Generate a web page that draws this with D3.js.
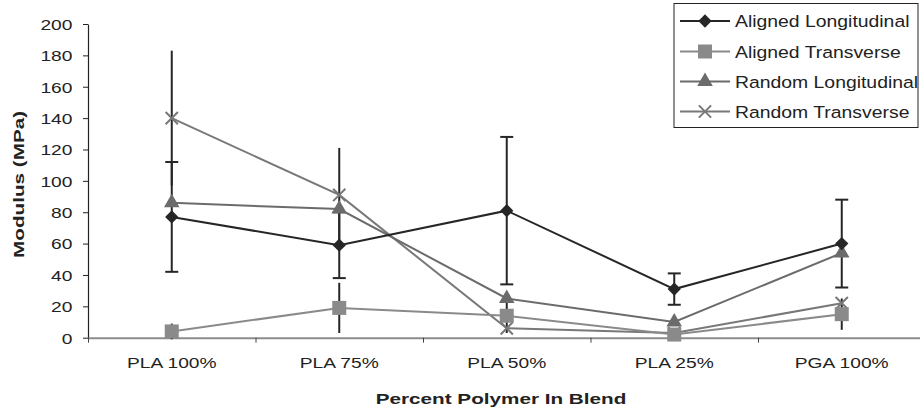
<!DOCTYPE html>
<html>
<head>
<meta charset="utf-8">
<script src="https://cdn.jsdelivr.net/npm/d3@7"></script>
<style>
  body { margin: 0; background: #fff; }
  text { font-family: "Liberation Sans", Arial, sans-serif; fill: #222; }
</style>
</head>
<body>
<script>
// modulus chart, 4 series with error bars

var categories = ["PLA 100%", "PLA 75%", "PLA 50%", "PLA 25%", "PGA 100%"];
var yTicks = [0, 20, 40, 60, 80, 100, 120, 140, 160, 180, 200];

var seriesNames = ["Aligned Longitudinal", "Aligned Transverse", "Random Longitudinal", "Random Transverse"];

var alignedLong = [77, 59, 81, 31, 60];
var alignedLongErr = [35, 21, 47, 10, 28];
var alignedTrans = [4, 19, 14, 2, 15];
var alignedTransErr = [5, 16, 11, 0, 10];
var randomLong = [86, 82, 25, 10, 54];
var randomLongErr = [0, 0, 0, 0, 0];
var randomTrans = [140, 91, 6, 3, 22];
var randomTransErr = [43, 30, 0, 0, 0];

var W = 920, H = 417;
var x0 = 88, x1 = 925.5;
var yBottom = 337.7, yTop = 24;
var txtScale = 1.28;

var series = [
  { name: seriesNames[0], vals: alignedLong, err: alignedLongErr, color: "#262626", sym: "diamond", cap: true },
  { name: seriesNames[1], vals: alignedTrans, err: alignedTransErr, color: "#8a8a8a", sym: "square", cap: false },
  { name: seriesNames[2], vals: randomLong, err: randomLongErr, color: "#6b6b6b", sym: "triangle", cap: false },
  { name: seriesNames[3], vals: randomTrans, err: randomTransErr, color: "#787878", sym: "x", cap: false }
];

var svg = d3.select("body").append("svg")
  .attr("width", W)
  .attr("height", H);

var x = d3.scaleBand().domain(categories).range([x0, x1]).padding(0);
var xEdge = d3.scaleLinear().domain([0, categories.length]).range([x0, x1]);
var y = d3.scaleLinear().domain([0, 200]).range([yBottom, yTop]);

function cx(i) { return x(categories[i]) + x.bandwidth() / 2; }

// y axis
var gy = svg.append("g")
  .attr("transform", "translate(" + x0 + ",0)")
  .call(d3.axisLeft(y).tickValues(yTicks).tickSize(5).tickSizeOuter(0));
gy.select(".domain").attr("stroke", "#222").attr("stroke-width", 1.2);
gy.selectAll(".tick line").attr("stroke", "#222");
gy.selectAll(".tick text")
  .attr("font-size", 15)
  .attr("x", -15.6 / txtScale)
  .attr("dy", "0.36em")
  .attr("transform", "scale(" + txtScale + ",1)")
  .style("fill", "#222");

// x axis: boundary ticks
var gxe = svg.append("g")
  .attr("transform", "translate(0," + yBottom + ")")
  .call(d3.axisBottom(xEdge).tickValues(d3.range(categories.length + 1)).tickSize(5).tickSizeOuter(0).tickFormat(""));
gxe.select(".domain").attr("stroke", "#8c8c8c").attr("stroke-width", 2);
gxe.selectAll(".tick line").attr("stroke", "#444");

// x axis labels
var gx = svg.append("g")
  .attr("transform", "translate(0," + yBottom + ")")
  .call(d3.axisBottom(x).tickSize(0));
gx.select(".domain").remove();
gx.selectAll(".tick text")
  .attr("font-size", 15)
  .attr("y", 30.5)
  .attr("dy", 0)
  .attr("transform", "scale(" + txtScale + ",1)")
  .style("fill", "#222");

// axis titles
svg.append("text")
  .attr("transform", "translate(501,404) scale(1.38,1)")
  .attr("text-anchor", "middle")
  .attr("font-size", 15)
  .attr("font-weight", "bold")
  .text("Percent Polymer In Blend");

svg.append("text")
  .attr("transform", "translate(23.5,184.4) rotate(-90) scale(1.38,1)")
  .attr("text-anchor", "middle")
  .attr("font-size", 15)
  .attr("font-weight", "bold")
  .text("Modulus (MPa)");

// symbols
var symX = d3.symbolX || {
  draw: function (ctx, size) {
    var r = Math.sqrt(size - Math.min(size / 6, 1.7)) * 0.6189;
    ctx.moveTo(-r, -r); ctx.lineTo(r, r);
    ctx.moveTo(-r, r); ctx.lineTo(r, -r);
  }
};
function drawMarker(g, s, px, py) {
  if (s.sym === "diamond") {
    g.append("path")
      .attr("d", d3.symbol().type(d3.symbolSquare).size(88)())
      .attr("transform", "translate(" + px + "," + py + ") rotate(45)")
      .attr("fill", s.color);
  } else if (s.sym === "square") {
    g.append("path")
      .attr("d", d3.symbol().type(d3.symbolSquare).size(196)())
      .attr("transform", "translate(" + px + "," + py + ")")
      .attr("fill", s.color);
  } else if (s.sym === "triangle") {
    g.append("path")
      .attr("d", d3.symbol().type(d3.symbolTriangle).size(105)())
      .attr("transform", "translate(" + px + "," + py + ")")
      .attr("fill", s.color);
  } else {
    g.append("path")
      .attr("d", d3.symbol().type(symX).size(100)())
      .attr("transform", "translate(" + px + "," + py + ")")
      .attr("fill", "none")
      .attr("stroke", s.color)
      .attr("stroke-width", 2);
  }
}

// error bars
var gErr = svg.append("g");
series.forEach(function (s) {
  s.vals.forEach(function (v, i) {
    var e = s.err[i];
    if (!e) return;
    var px = cx(i);
    gErr.append("line")
      .attr("x1", px).attr("x2", px)
      .attr("y1", y(v - e)).attr("y2", y(v + e))
      .attr("stroke", "#262626").attr("stroke-width", 2);
    if (s.cap) {
      [v - e, v + e].forEach(function (c) {
        gErr.append("line")
          .attr("x1", px - 6.5).attr("x2", px + 6.5)
          .attr("y1", y(c)).attr("y2", y(c))
          .attr("stroke", "#262626").attr("stroke-width", 2);
      });
    }
  });
});

// lines
var line = d3.line()
  .x(function (d, i) { return cx(i); })
  .y(function (d) { return y(d); });

var gLines = svg.append("g");
series.slice().reverse().forEach(function (s) {
  gLines.append("path")
    .attr("d", line(s.vals))
    .attr("fill", "none")
    .attr("stroke", s.color)
    .attr("stroke-width", 2);
});

// markers
var gMarks = svg.append("g");
series.slice().reverse().forEach(function (s) {
  s.vals.forEach(function (v, i) {
    drawMarker(gMarks, s, cx(i), y(v));
  });
});

// legend
var leg = svg.append("g");
leg.append("rect")
  .attr("x", 674).attr("y", 3.5)
  .attr("width", 244).attr("height", 124)
  .attr("fill", "#fff")
  .attr("stroke", "#222").attr("stroke-width", 1);

var rowY = [21, 51.5, 81.5, 111.5];
series.forEach(function (s, k) {
  var ry = rowY[k];
  leg.append("line")
    .attr("x1", 680).attr("x2", 730)
    .attr("y1", ry).attr("y2", ry)
    .attr("stroke", s.color).attr("stroke-width", 2);
  drawMarker(leg, s, 705, ry);
  leg.append("text")
    .attr("transform", "translate(735," + (ry + 6.2) + ") scale(1.14,1)")
    .attr("font-size", 17)
    .text(s.name);
});
</script>
</body>
</html>
